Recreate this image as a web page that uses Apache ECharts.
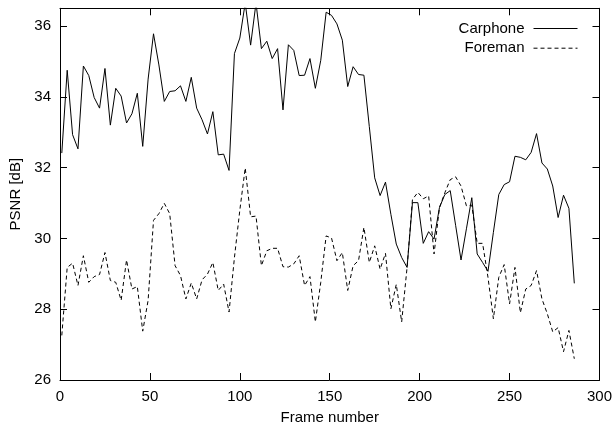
<!DOCTYPE html>
<html>
<head>
<meta charset="utf-8">
<script src="https://cdn.jsdelivr.net/npm/echarts@6/dist/echarts.min.js"></script>
<style>
html,body{margin:0;padding:0;background:#fff;}
#chart{width:615px;height:430px;}
</style>
</head>
<body>
<div id="chart"></div>
<script>
var frames = [1,4,7,10,13,16,19,22,25,28,31,34,37,40,43,46,49,52,55,58,61,64,67,70,73,76,79,82,85,88,91,94,97,100,103,106,109,112,115,118,121,124,127,130,133,136,139,142,145,148,151,154,157,160,163,166,169,172,175,178,181,184,187,190,193,196,199,202,205,208,211,214,217,220,223,226,229,232,235,238,241,244,247,250,253,256,259,262,265,268,271,274,277,280,283,286];

var carphone = [32.41,34.75,32.93,32.53,34.87,34.6,33.98,33.68,34.8,33.2,34.24,34.02,33.26,33.52,34.1,32.6,34.5,35.78,34.9,33.87,34.15,34.17,34.31,33.87,34.55,33.68,33.35,32.95,33.58,32.36,32.38,31.92,35.22,35.66,36.65,35.46,36.65,35.36,35.57,35.08,35.36,33.63,35.47,35.31,34.6,34.61,35.08,34.24,35.03,36.39,36.3,36.06,35.6,34.29,34.85,34.63,34.61,33.16,31.71,31.21,31.59,30.68,29.84,29.46,29.18,31.01,31.01,29.86,30.19,29.98,30.87,31.24,31.35,30.37,29.39,30.27,31.15,29.56,29.32,29.07,30.17,31.24,31.52,31.6,32.32,32.29,32.22,32.43,32.96,32.13,31.96,31.48,30.59,31.22,30.85,28.73];

var foreman = [27.26,29.18,29.3,28.67,29.51,28.76,28.92,28.98,29.6,28.81,28.76,28.25,29.39,28.57,28.64,27.38,28.25,30.51,30.7,30.99,30.7,29.23,28.95,28.29,28.74,28.29,28.83,28.99,29.32,28.53,28.71,27.92,29.46,30.8,31.99,30.61,30.63,29.23,29.65,29.72,29.72,29.2,29.19,29.28,29.51,28.67,28.92,27.64,28.76,30.07,30.01,29.37,29.6,28.53,29.23,29.37,30.31,29.32,29.79,29.13,29.58,28.01,28.7,27.64,29.18,31.1,31.3,31.12,31.2,29.56,30.87,31.29,31.66,31.74,31.48,30.92,30.94,29.86,29.86,28.9,27.73,28.9,29.26,28.15,29.18,27.9,28.57,28.67,29.09,28.29,27.87,27.36,27.48,26.8,27.4,26.6];

var seriesNames = ['Carphone', 'Foreman'];
var xName = 'Frame number';
var yName = 'PSNR [dB]';

function pairs(xs, ys) {
  var out = [];
  for (var i = 0; i < xs.length; i++) out.push([xs[i], ys[i]]);
  return out;
}

var FONT = '"Liberation Sans", Arial, sans-serif';
var FS = 15;
var black = '#000';

var chart = echarts.init(document.getElementById('chart'), null, {renderer: 'canvas'});

function axisBase(extra) {
  var base = {
    type: 'value',
    axisLine: {show: true, onZero: false, lineStyle: {color: black, width: 1}},
    axisTick: {show: true, inside: true, length: 7, lineStyle: {color: black, width: 1}},
    splitLine: {show: false},
    axisLabel: {color: black, fontSize: FS, fontFamily: FONT}
  };
  for (var k in extra) base[k] = extra[k];
  return base;
}

var option = {
  backgroundColor: '#fff',
  animation: false,
  grid: {left: 59.5, right: 13.3, top: 8.3, bottom: 46.7, containLabel: false},
  legend: {
    data: seriesNames,
    orient: 'vertical',
    right: 32,
    top: 16,
    align: 'right',
    itemWidth: 44,
    itemHeight: 12,
    itemGap: 4.7,
    itemStyle: {opacity: 0},
    lineStyle: {width: 1},
    textStyle: {color: black, fontSize: FS, fontFamily: FONT, padding: [0, 4, 0, 0]}
  },
  xAxis: [
    axisBase({
      position: 'bottom', min: 0, max: 300, interval: 50,
      name: xName, nameLocation: 'middle', nameGap: 30,
      nameTextStyle: {color: black, fontSize: FS, fontFamily: FONT},
      axisLabel: {color: black, fontSize: FS, fontFamily: FONT, margin: 9}
    }),
    axisBase({
      position: 'top', min: 0, max: 300, interval: 50,
      axisLabel: {show: false}
    })
  ],
  yAxis: [
    axisBase({
      position: 'left', min: 26, max: 36.5, interval: 2,
      name: yName, nameLocation: 'middle', nameGap: 37,
      nameTextStyle: {color: black, fontSize: FS, fontFamily: FONT},
      axisLabel: {color: black, fontSize: FS, fontFamily: FONT, margin: 9, showMaxLabel: false}
    }),
    axisBase({
      position: 'right', min: 26, max: 36.5, interval: 2,
      axisLabel: {show: false}
    })
  ],
  series: [
    {
      name: seriesNames[0], type: 'line', xAxisIndex: 0, yAxisIndex: 0,
      data: pairs(frames, carphone), symbol: 'none', clip: true,
      lineStyle: {color: black, width: 1, type: 'solid'},
      itemStyle: {color: black}
    },
    {
      name: seriesNames[1], type: 'line', xAxisIndex: 0, yAxisIndex: 0,
      data: pairs(frames, foreman), symbol: 'none', clip: true,
      lineStyle: {color: black, width: 1, type: [4, 3]},
      itemStyle: {color: black}
    }
  ]
};
chart.setOption(option);
</script>
</body>
</html>
